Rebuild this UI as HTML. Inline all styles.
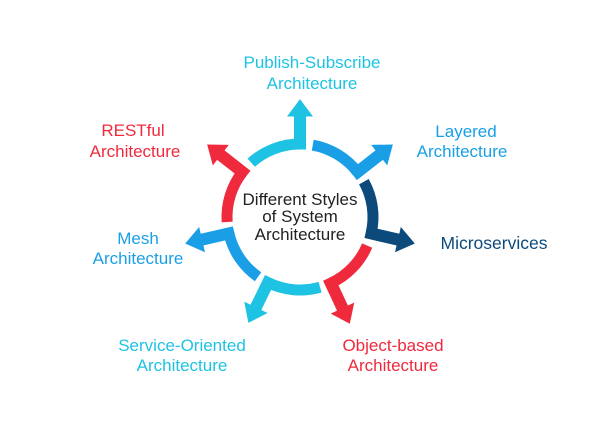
<!DOCTYPE html>
<html><head><meta charset="utf-8"><style>
html,body{margin:0;padding:0;background:#fff;}
svg{display:block}
text{font-family:"Liberation Sans",sans-serif;font-size:17px;text-anchor:middle}
</style></head><body>
<svg width="600" height="429" viewBox="0 0 600 429">
<defs>
<g id="seg">
<path d="M251.2 162.7 A73 73 0 0 1 300 144" fill="none" stroke-width="11"/>
<rect x="294.5" y="114" width="11" height="35"/>
<polygon points="288,116 312,116 300,100"/>
</g>
</defs>
<g fill="#1ec3e3" stroke="#1ec3e3"><use href="#seg" transform="rotate(0 300 217)"/></g>
<g fill="#1a9fe6" stroke="#1a9fe6"><use href="#seg" transform="rotate(52 300 217)"/></g>
<g fill="#0d4a7c" stroke="#0d4a7c"><use href="#seg" transform="rotate(103 300 217)"/></g>
<g fill="#ef2a3c" stroke="#ef2a3c"><use href="#seg" transform="rotate(155 300 217)"/></g>
<g fill="#1ec3e3" stroke="#1ec3e3"><use href="#seg" transform="rotate(206 300 217)"/></g>
<g fill="#1a9fe6" stroke="#1a9fe6"><use href="#seg" transform="rotate(257 300 217)"/></g>
<g fill="#ef2a3c" stroke="#ef2a3c"><use href="#seg" transform="rotate(308 300 217)"/></g>
<g style="font-size:14px" fill="#222">
<text x="300" y="205">Different Styles</text>
<text x="300" y="222">of System</text>
<text x="300" y="240">Architecture</text>
</g>
<g fill="#1ec3e3"><text x="312" y="68">Publish-Subscribe</text><text x="312" y="89">Architecture</text></g>
<g fill="#1a9fe6"><text x="466" y="137">Layered</text><text x="462" y="157">Architecture</text></g>
<text x="494" y="249" fill="#0d4a7c" style="font-size:17.5px">Microservices</text>
<g fill="#ef2a3c"><text x="393" y="351">Object-based</text><text x="393" y="371">Architecture</text></g>
<g fill="#1ec3e3"><text x="182" y="351">Service-Oriented</text><text x="182" y="371">Architecture</text></g>
<g fill="#1a9fe6"><text x="138" y="244">Mesh</text><text x="138" y="264">Architecture</text></g>
<g fill="#ef2a3c"><text x="133" y="136">RESTful</text><text x="135" y="157">Architecture</text></g>
</svg>
</body></html>
